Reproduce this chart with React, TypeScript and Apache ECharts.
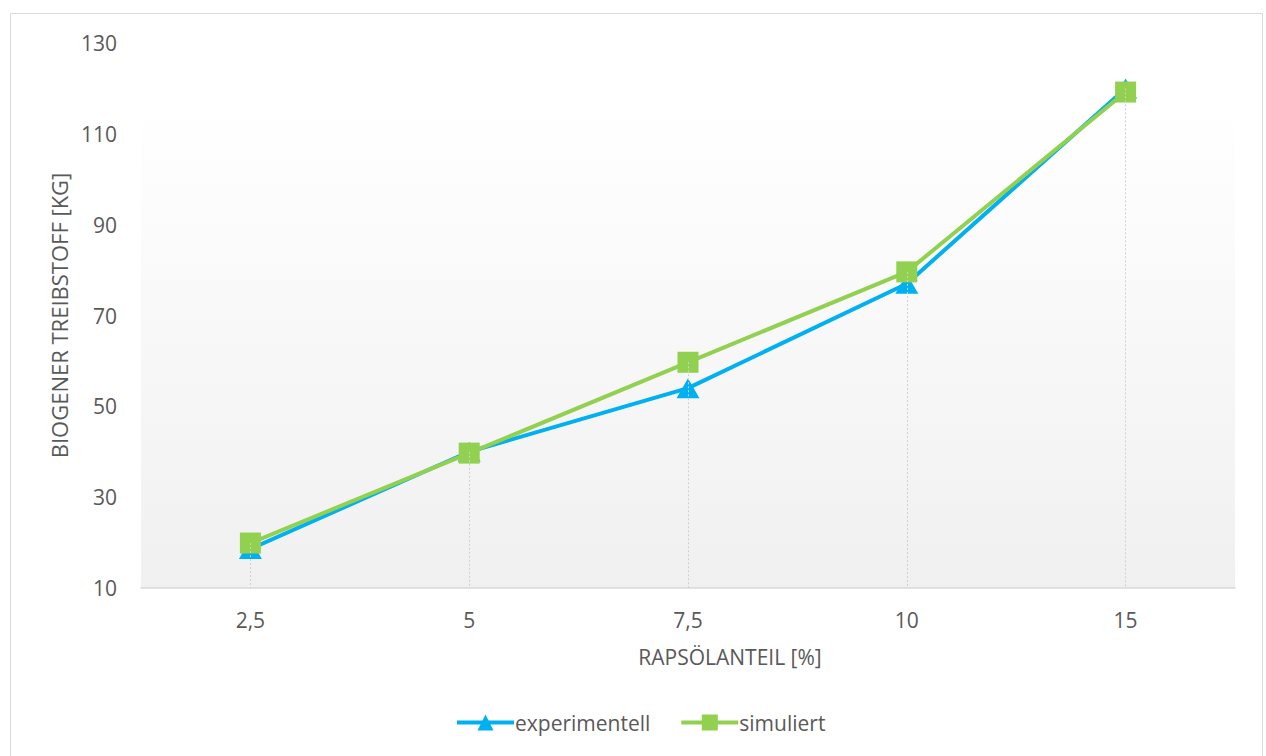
import React, { useEffect, useRef } from "react";
import * as echarts from "echarts";

// Rapeseed oil share in the blend (x categories)
const categories = ["2,5", "5", "7,5", "10", "15"];
// Biogenic fuel mass in kg
const experimentell = [18.6, 40, 54, 77, 120];
const simuliert = [19.9, 39.7, 59.7, 79.6, 119.2];

const Y_MIN = 10;
const Y_MAX = 130;
const Y_STEP = 20;

const FONT = "'Open Sans', 'Noto Sans', sans-serif";
const TEXT = "#595959";

export default function App() {
  const ref = useRef<HTMLDivElement>(null);

  useEffect(() => {
    document.body.style.margin = "0";
    if (!ref.current) return;
    const chart = echarts.init(ref.current, undefined, { renderer: "svg" });

    // vertical drop lines from the higher of the two points down to the axis
    const dropLines = categories.map((c, i) => [
      { coord: [c, Math.max(experimentell[i], simuliert[i])] },
      { coord: [c, Y_MIN] },
    ]);

    chart.setOption({
      animation: false,
      backgroundColor: "#ffffff",
      textStyle: { fontFamily: FONT },
      graphic: [
        {
          type: "rect",
          shape: { x: 10.5, y: 13.5, width: 1252, height: 760 },
          style: { fill: "none", stroke: "#d9d9d9", lineWidth: 1 },
          silent: true,
        },
      ],
      grid: {
        left: 141,
        right: 31,
        top: 43,
        bottom: 168,
        show: true,
        borderWidth: 0,
        backgroundColor: new echarts.graphic.LinearGradient(0, 0, 0, 1, [
          { offset: 0, color: "#ffffff" },
          { offset: 0.12, color: "#ffffff" },
          { offset: 1, color: "#f0f0f0" },
        ]),
      },
      legend: {
        top: 707,
        left: 450,
        itemWidth: 57,
        itemHeight: 20,
        itemGap: 29,
        lineStyle: { width: 4 },
        textStyle: { color: TEXT, fontSize: 21, fontFamily: FONT, padding: [0, 0, 0, -4] },
        data: ["experimentell", "simuliert"],
      },
      xAxis: {
        type: "category",
        data: categories,
        boundaryGap: true,
        name: "RAPSÖLANTEIL [%]",
        nameLocation: "middle",
        nameGap: 58,
        nameTextStyle: { color: TEXT, fontSize: 21, fontFamily: FONT, padding: [0, 0, 0, 84] },
        axisLine: { lineStyle: { color: "#d9d9d9", width: 1.5 } },
        axisTick: { show: false },
        axisLabel: { color: TEXT, fontSize: 21, margin: 21, fontFamily: FONT },
        splitLine: { show: false },
      },
      yAxis: {
        type: "value",
        min: Y_MIN,
        max: Y_MAX,
        interval: Y_STEP,
        name: "BIOGENER TREIBSTOFF [KG]",
        nameLocation: "middle",
        nameGap: 71,
        nameRotate: 90,
        nameTextStyle: { color: TEXT, fontSize: 22, fontFamily: FONT },
        axisLine: { show: false },
        axisTick: { show: false },
        axisLabel: { color: TEXT, fontSize: 21, margin: 24, fontFamily: FONT },
        splitLine: { show: false },
      },
      series: [
        {
          name: "experimentell",
          type: "line",
          data: experimentell,
          symbol: "triangle",
          symbolSize: [23, 20],
          lineStyle: { color: "#00b0f0", width: 4 },
          itemStyle: { color: "#00b0f0" },
          z: 2,
        },
        {
          name: "simuliert",
          type: "line",
          data: simuliert,
          symbol: "rect",
          symbolSize: 21,
          lineStyle: { color: "#92d050", width: 4 },
          itemStyle: { color: "#92d050" },
          z: 3,
          markLine: {
            silent: true,
            symbol: ["none", "none"],
            label: { show: false },
            lineStyle: { color: "#cfcfcf", width: 1, type: [2, 2] },
            data: dropLines,
          },
        },
      ],
    });

    return () => chart.dispose();
  }, []);

  return <div ref={ref} style={{ width: 1266, height: 756 }} />;
}
